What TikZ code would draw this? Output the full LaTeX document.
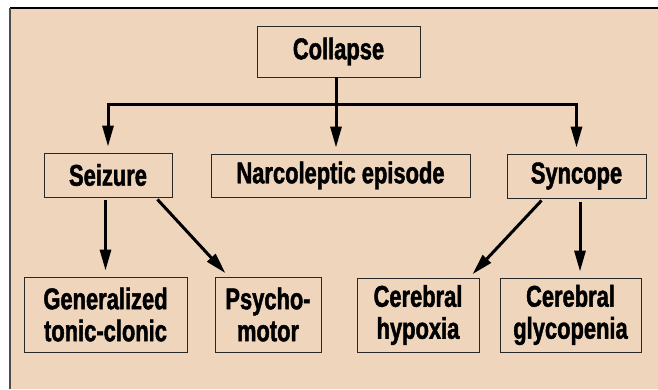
\documentclass[tikz,border=0pt]{standalone}
\usepackage{fontspec}
\setmainfont{Liberation Sans}[FakeStretch=0.73, BoldFeatures={FakeStretch=0.73, FakeBold=1.5}]
\usepackage{xcolor}
\usetikzlibrary{arrows.meta, positioning, calc}

\definecolor{panelbg}{RGB}{238,213,187}
\definecolor{boxline}{RGB}{40,40,40}

\begin{document}
\begin{tikzpicture}[
    x=1pt, y=-1pt,
    box/.style={rectangle, draw=boxline, line width=0.9pt, align=center, inner sep=0pt, font=\fontsize{30}{32}\selectfont\bfseries},
    arrow/.style={line width=3pt, -{Triangle[length=21pt,width=11pt]}, shorten >=6pt}
]
    \useasboundingbox (0,0) rectangle (658,389);
    % panel
    \fill [panelbg] (10,8) rectangle (658,389);
    \draw [black, line width=2pt] (10,8) -- (658,8);
    \draw [black!70, line width=1.3pt] (10,8) -- (10,389);

    \node [box, minimum width=163pt, minimum height=51pt] (collapse) at (338.5,51.5) {Collapse};

    \node [box, minimum width=128pt, minimum height=44pt] (seizure) at (108,175) {Seizure};
    \node [box, minimum width=259pt, minimum height=43pt] (narco) at (340.5,175.5) {Narcoleptic episode};
    \node [box, minimum width=139pt, minimum height=44pt] (syncope) at (576.5,176) {Syncope};

    \node [box, minimum width=163pt, minimum height=75pt] (general) at (105.5,314.5) {Generalized\\tonic-clonic};
    \node [box, minimum width=106pt, minimum height=75pt] (psycho) at (268,314.5) {Psycho-\\motor};
    \node [box, minimum width=122pt, minimum height=74pt] (hypoxia) at (418,315) {Cerebral\\hypoxia};
    \node [box, minimum width=141pt, minimum height=74pt] (glyco) at (570.5,315) {Cerebral\\glycopenia};

    \coordinate (bus) at ($(collapse.south)+(-2.5,27)$);

    \draw [arrow] ([xshift=-2.5pt]collapse.south) -- (bus |- narco.north);
    \draw [arrow] (bus) -| (seizure.north);
    \draw [arrow] (bus) -| (syncope.north);

    \draw [arrow] ($(general.north)+(0,-77)$) -- (general.north);
    \draw [arrow] ([xshift=-15pt,yshift=-2pt]seizure.south east) -- ([xshift=15pt,yshift=-1pt]psycho.north west);
    \draw [arrow] ([xshift=35pt,yshift=-2pt]syncope.south west) -- ([xshift=-11pt,yshift=-1pt]hypoxia.north east);
    \draw [arrow] ($(glyco.north)+(9.5,-76)$) -- ($(glyco.north)+(9.5,0)$);
\end{tikzpicture}
\end{document}
